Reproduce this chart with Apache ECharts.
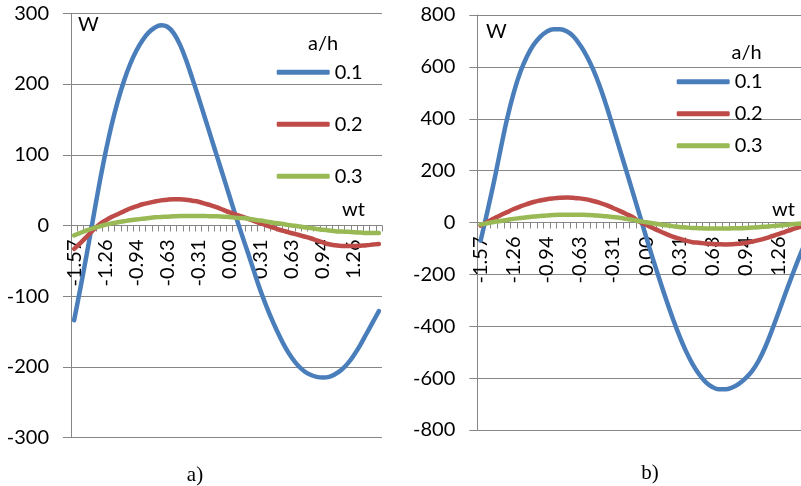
<!DOCTYPE html>
<html>
<head>
<meta charset="utf-8">
<script src="https://cdn.jsdelivr.net/npm/echarts@6/dist/echarts.min.js"></script>
<style>
html,body{margin:0;padding:0;background:#fff;}
#chart{width:801px;height:486px;}
</style>
</head>
<body>
<div id="chart"></div>
<script>
// Category labels (wt)
const categories = ["-1.57","-1.51","-1.44","-1.38","-1.32","-1.26","-1.19","-1.13","-1.07","-1.01",
  "-0.94","-0.88","-0.82","-0.75","-0.69","-0.63","-0.57","-0.50","-0.44","-0.38",
  "-0.31","-0.25","-0.19","-0.13","-0.06","0.00","0.06","0.13","0.19","0.25",
  "0.31","0.38","0.44","0.50","0.57","0.63","0.69","0.75","0.82","0.88",
  "0.94","1.01","1.07","1.13","1.19","1.26","1.32","1.38","1.44","1.51"];
const seriesNames = ["0.1", "0.2", "0.3"];

// Chart a)
const leftBlue = [-134,-89,-42,7,56,101,141,175,204,228,247,262,273,280,283,281,272,256,234,208,
  181,153,125,97,69,41,13,-14,-40,-67,-93,-116,-137,-156,-173,-187,-198,-206,-211,-214,
  -215,-214,-210,-204,-195,-183,-169,-153,-137,-121];
const leftRed = [-33,-25,-16,-7,1,7,12,16,20,24,27,30,32,34,35.5,36.5,37,37,36.5,35,
  33.5,31,28.5,25.5,22,18.5,15.5,12.5,9.5,6,3,0,-3,-6,-8.5,-11,-13,-15.5,-18,-21,
  -24,-26.5,-28,-29,-29,-29,-28.5,-28,-27,-26];
const leftGreen = [-14,-10.5,-7,-4,-1.5,1,3,4.5,6,7.5,8.5,9.5,10.5,11.5,12,12.5,13,13.5,13.5,13.5,
  13.5,13.5,13,13,12.5,12,11,10.5,9.5,8,7,5.5,4,3,1.5,0,-1,-2.5,-3.5,-5,
  -6,-7,-8,-8.5,-9,-9.5,-10,-10.5,-10.5,-10.5];

// Chart b)
const rightBlue = [-70,40,155,280,400,500,580,640,685,716,736,745,745,737,718,685,643,590,525,450,
  368,284,200,115,30,-55,-138,-218,-295,-368,-435,-495,-545,-585,-615,-634,-643,-643,-636,-622,
  -601,-573,-533,-480,-416,-347,-277,-208,-142,-80];
const rightRed = [-12,2,15,28,40,52,62,71,79,85,90,93,95,96,95,93,89,83,76,67,
  56,45,33,20,3,-9,-21,-33,-44,-54,-62,-70,-76,-78,-81,-83,-84,-84.5,-84,-82,
  -79,-74,-68,-61,-53,-45,-36,-27,-19,-10];
const rightGreen = [-8,-3,2,6,10,14,17,20,23,25,27,28.5,29.5,30,30,30,29,28,26,24,
  21,18,14,10,5,1,-3,-7,-11,-14,-17,-19,-21,-22,-23,-23,-23,-23,-22.5,-22,
  -21,-19.5,-18,-16,-14,-12,-9.5,-7,-4.5,-2];

const yTicksA = {min: -300, max: 300, interval: 100};
const yTicksB = {min: -800, max: 800, interval: 200};

const colors = ["#4A7EBB", "#BE4B48", "#98B954"];
const FONT = "Lato";
const GRAY = "#868686";

const gridA = {left: 71, top: 13.3, width: 311, height: 424.4};
const gridB = {left: 477.3, top: 15, width: 331, height: 415};

function xAxis(gi, g, t) {
  // put the category axis on the value-axis zero line
  const off = -g.height * (0 - t.min) / (t.max - t.min);
  return {
    type: "category", gridIndex: gi, data: categories, boundaryGap: true,
    position: "bottom", offset: off,
    axisLine: {show: true, onZero: false, lineStyle: {color: GRAY, width: 1}},
    axisTick: {show: true, interval: 0, length: 6, lineStyle: {color: GRAY}},
    axisLabel: {interval: 4, rotate: 90, margin: 14, fontSize: 20, color: "#000", fontFamily: FONT},
    splitLine: {show: false}
  };
}
function yAxis(gi, t) {
  return {
    type: "value", gridIndex: gi, min: t.min, max: t.max, interval: t.interval,
    axisLine: {show: true, lineStyle: {color: GRAY, width: 1}},
    axisTick: {show: true, length: 8, lineStyle: {color: GRAY}},
    axisLabel: {fontSize: 20, margin: 22, color: "#000", fontFamily: FONT},
    splitLine: {show: true, lineStyle: {color: GRAY, width: 1}}
  };
}
function line(name, gi, data, color) {
  return {
    name: name, type: "line", xAxisIndex: gi, yAxisIndex: gi, data: data,
    smooth: 0.4, showSymbol: false, symbol: "none",
    lineStyle: {width: 4.5, color: color, cap: "round", join: "round"},
    itemStyle: {color: color}, z: 3
  };
}
function legend(left, top, gap) {
  return {
    data: seriesNames, orient: "vertical", left: left, top: top, itemGap: gap,
    itemWidth: 53, itemHeight: 5, icon: "roundRect",
    textStyle: {fontSize: 20, color: "#000", fontFamily: FONT, lineHeight: 20},
    selectedMode: false
  };
}
function label(x, y, s, font, align) {
  return {type: "text", x: x, y: y, style: {text: s, font: font, fill: "#000", textAlign: align || "left", textVerticalAlign: "middle"}};
}

const chart = echarts.init(document.getElementById("chart"), null, {renderer: "canvas"});
chart.setOption({
  animation: false,
  backgroundColor: "#fff",
  grid: [
    Object.assign({containLabel: false, outerBoundsMode: "none"}, gridA),
    Object.assign({containLabel: false, outerBoundsMode: "none"}, gridB)
  ],
  xAxis: [xAxis(0, gridA, yTicksA), xAxis(1, gridB, yTicksB)],
  yAxis: [yAxis(0, yTicksA), yAxis(1, yTicksB)],
  legend: [legend(271.7, 57.3, 32), legend(671.7, 66.7, 12)],
  series: [
    line(seriesNames[0], 0, leftBlue, colors[0]),
    line(seriesNames[1], 0, leftRed, colors[1]),
    line(seriesNames[2], 0, leftGreen, colors[2]),
    line(seriesNames[0], 1, rightBlue, colors[0]),
    line(seriesNames[1], 1, rightRed, colors[1]),
    line(seriesNames[2], 1, rightGreen, colors[2])
  ],
  graphic: [
    label(78, 24.5, "W", "20px Lato"),
    label(486, 31.5, "W", "20px Lato"),
    label(342, 209.5, "wt", "20px Lato"),
    label(772, 210, "wt", "20px Lato"),
    label(308, 43.5, "a/h", "20px Lato"),
    label(731.5, 53, "a/h", "20px Lato"),
    label(195, 475, "a)", "21px 'Liberation Serif'", "center"),
    label(650, 473, "b)", "21px 'Liberation Serif'", "center")
  ]
});
</script>
</body>
</html>
